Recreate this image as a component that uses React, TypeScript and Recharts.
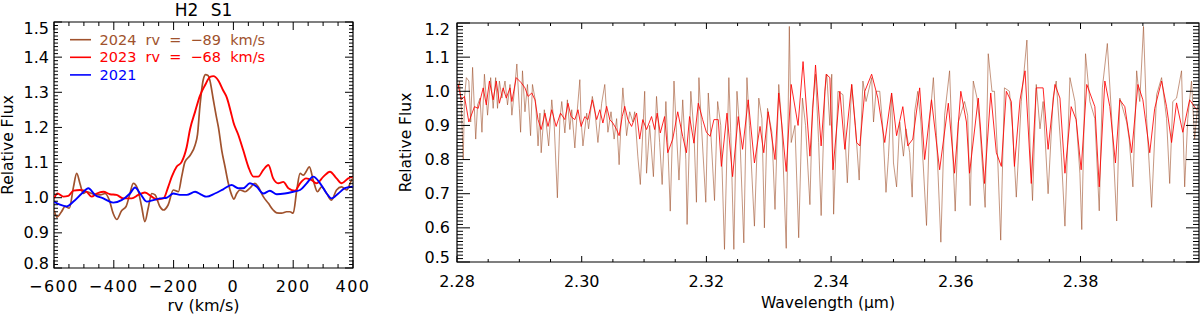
import React from 'react';
import { LineChart, Line, XAxis, YAxis, Legend, ReferenceArea } from 'recharts';

const FONT = "'DejaVu Sans', sans-serif";
const SIENNA = '#a0522d';
const RED = '#ff0000';
const BLUE = '#0000ff';

// ---------------- Left panel: H2 S1 line profiles ----------------
const panelTitle = 'H2 S1';
const seriesNames = ['2024 rv = \u221289 km/s', '2023 rv = \u221268 km/s', '2021'];
const seriesColors = [SIENNA, RED, BLUE];

const rv2024 = [-600, -590, -575, -563, -549, -535, -524, -513, -502, -491, -468, -446, -429, -415, -402, -390, -374, -359, -346, -335, -321, -307, -296, -285, -273, -262, -246, -234, -218, -201, -184, -173, -162, -145, -128, -120, -112, -101, -93, -85, -79, -67, -58, -50, -39, -28, -17, -6, 2, 11, 22, 39, 55, 72, 83, 100, 117, 133, 145, 161, 178, 189, 200, 212, 223, 234, 243, 254, 267, 281, 295, 312, 328, 345, 362, 379, 395, 400];
const flux2024 = [0.965, 0.945, 0.96, 0.975, 0.97, 1.03, 1.069, 1.04, 1.012, 1.017, 1.01, 1.008, 1.012, 0.993, 0.955, 0.938, 0.963, 0.975, 1.012, 1.041, 1.027, 0.975, 0.932, 0.97, 1.012, 1.008, 0.975, 0.965, 0.98, 1.022, 1.017, 1.06, 1.102, 1.12, 1.15, 1.18, 1.26, 1.335, 1.35, 1.348, 1.335, 1.278, 1.235, 1.2, 1.135, 1.088, 1.041, 1.008, 0.996, 1.012, 1.022, 1.017, 1.027, 1.041, 1.031, 1.003, 0.984, 0.965, 0.957, 0.956, 0.96, 0.96, 0.956, 1.022, 1.069, 1.064, 1.074, 1.088, 1.05, 1.017, 1.031, 1.012, 0.993, 1.022, 1.031, 1.022, 1.05, 1.055];

const rv2023 = [-600, -588, -569, -552, -535, -513, -491, -474, -457, -435, -413, -391, -368, -340, -318, -296, -273, -257, -234, -218, -206, -190, -173, -156, -145, -128, -112, -95, -78, -67, -50, -34, -22, -6, 0, 16, 33, 50, 67, 83, 100, 117, 133, 150, 167, 184, 206, 223, 243, 262, 278, 301, 323, 345, 362, 384, 400];
const flux2023 = [0.998, 1.012, 1.003, 1.005, 1.02, 1.022, 1.017, 1.003, 1.012, 1.017, 1.01, 1.008, 0.998, 0.998, 1.008, 1.015, 1.003, 0.995, 0.998, 1.031, 1.06, 1.088, 1.102, 1.145, 1.195, 1.245, 1.29, 1.32, 1.344, 1.346, 1.333, 1.305, 1.285, 1.235, 1.215, 1.18, 1.135, 1.088, 1.06, 1.06, 1.079, 1.093, 1.055, 1.041, 1.045, 1.027, 1.02, 1.041, 1.055, 1.05, 1.041, 1.06, 1.074, 1.055, 1.041, 1.055, 1.06];

const rv2021 = [-600, -580, -558, -535, -507, -485, -463, -435, -402, -374, -346, -329, -312, -290, -268, -246, -223, -201, -179, -156, -128, -106, -90, -62, -34, -6, 16, 33, 55, 78, 100, 122, 145, 172, 200, 223, 245, 267, 290, 312, 328, 351, 373, 400];
const flux2021 = [0.989, 0.98, 0.975, 0.989, 1.012, 1.027, 1.008, 0.998, 0.986, 0.993, 1.012, 1.029, 1.012, 0.989, 0.993, 0.998, 1.0, 1.012, 1.008, 1.008, 1.017, 1.008, 1.003, 1.012, 1.024, 1.036, 1.027, 1.027, 1.041, 1.031, 1.012, 1.02, 1.01, 1.012, 1.017, 1.022, 1.041, 1.06, 1.041, 1.012, 0.998, 1.012, 1.027, 1.031];

const rvMajor = [-600, -400, -200, 0, 200, 400];
const rvLabels = ['\u2212600', '\u2212400', '\u2212200', '0', '200', '400'];
const rvMinor = [-600, -550, -500, -450, -400, -350, -300, -250, -200, -150, -100, -50, 0, 50, 100, 150, 200, 250, 300, 350, 400];
const leftFluxMajor = [0.8, 0.9, 1.0, 1.1, 1.2, 1.3, 1.4, 1.5];
const leftFluxLabels = ['0.8', '0.9', '1.0', '1.1', '1.2', '1.3', '1.4', '1.5'];
const rvTitle = 'rv (km/s)';
const fluxTitle = 'Relative Flux';

// ---------------- Right panel: K-band spectrum ----------------
const wlBrown = [2.2801, 2.2804, 2.2807, 2.2810, 2.2812, 2.2815, 2.2819, 2.2822, 2.2825, 2.2830, 2.2833, 2.2837, 2.2840, 2.2844, 2.2849, 2.2854, 2.2858, 2.2862, 2.2865, 2.2868, 2.2872, 2.2877, 2.2881, 2.2885, 2.2888, 2.2892, 2.2896, 2.2900, 2.2902, 2.2905, 2.2909, 2.2913, 2.2918, 2.2921, 2.2926, 2.2930, 2.2933, 2.2935, 2.2940, 2.2943, 2.2947, 2.2952, 2.2956, 2.2961, 2.2965, 2.2968, 2.2973, 2.2977, 2.2981, 2.2984, 2.2989, 2.2993, 2.2997, 2.2999, 2.3002, 2.3008, 2.3011, 2.3017, 2.3021, 2.3026, 2.3032, 2.3037, 2.3042, 2.3047, 2.3052, 2.3056, 2.3060, 2.3064, 2.3066, 2.3072, 2.3077, 2.3082, 2.3085, 2.3090, 2.3094, 2.3101, 2.3104, 2.3109, 2.3115, 2.3120, 2.3125, 2.3129, 2.3135, 2.3138, 2.3142, 2.3148, 2.3152, 2.3156, 2.3162, 2.3167, 2.3169, 2.3175, 2.3180, 2.3184, 2.3188, 2.3192, 2.3199, 2.3203, 2.3207, 2.3213, 2.3218, 2.3223, 2.3229, 2.3236, 2.3239, 2.3244, 2.3249, 2.3253, 2.3260, 2.3265, 2.3269, 2.3277, 2.3284, 2.3289, 2.3293, 2.3298, 2.3305, 2.3310, 2.3316, 2.3321, 2.3328, 2.3333, 2.3336, 2.3342, 2.3348, 2.3354, 2.3359, 2.3366, 2.3370, 2.3375, 2.3380, 2.3384, 2.3390, 2.3393, 2.3398, 2.3401, 2.3404, 2.3411, 2.3419, 2.3426, 2.3433, 2.3439, 2.3445, 2.3451, 2.3456, 2.3465, 2.3468, 2.3472, 2.3478, 2.3483, 2.3488, 2.3492, 2.3497, 2.3500, 2.3505, 2.3510, 2.3516, 2.3520, 2.3526, 2.3530, 2.3534, 2.3539, 2.3544, 2.3553, 2.3558, 2.3564, 2.3569, 2.3576, 2.3582, 2.3590, 2.3593, 2.3599, 2.3604, 2.3609, 2.3614, 2.3619, 2.3623, 2.3628, 2.3634, 2.3638, 2.3647, 2.3652, 2.3658, 2.3662, 2.3667, 2.3672, 2.3678, 2.3686, 2.3691, 2.3697, 2.3705, 2.3714, 2.3719, 2.3723, 2.3729, 2.3735, 2.3740, 2.3748, 2.3756, 2.3761, 2.3769, 2.3775, 2.3783, 2.3791, 2.3799, 2.3802, 2.3808, 2.3815, 2.3823, 2.3830, 2.3835, 2.3843, 2.3850, 2.3858, 2.3863, 2.3874, 2.3878, 2.3884, 2.3890, 2.3895, 2.3901, 2.3906, 2.3914, 2.3922, 2.3930, 2.3938, 2.3943, 2.3948, 2.3954, 2.3962, 2.3967, 2.3972, 2.3978, 2.3983, 2.3988];
const fluxBrown = [1.00, 1.03, 0.95, 0.80, 0.98, 1.04, 1.03, 0.91, 1.07, 0.86, 0.96, 0.98, 0.88, 1.05, 0.93, 1.04, 0.95, 1.04, 0.95, 1.03, 0.98, 1.03, 0.96, 1.02, 0.93, 1.00, 1.08, 0.95, 0.88, 1.06, 0.94, 1.02, 0.87, 1.02, 0.97, 0.84, 0.936, 0.82, 0.946, 0.907, 0.84, 0.975, 0.897, 0.688, 0.917, 0.97, 0.878, 0.975, 0.888, 0.946, 0.834, 0.946, 1.034, 0.917, 0.84, 0.936, 0.89, 0.985, 0.946, 0.85, 0.965, 1.02, 0.88, 0.94, 0.86, 0.92, 0.785, 0.946, 1.01, 0.87, 0.94, 0.91, 0.94, 0.81, 0.727, 1.0, 0.76, 0.9, 0.75, 0.985, 0.85, 0.727, 0.97, 0.85, 0.649, 1.03, 0.88, 0.74, 0.975, 0.80, 0.61, 1.0, 0.88, 0.675, 1.04, 0.9, 0.675, 0.995, 0.88, 0.68, 0.97, 0.9, 0.537, 1.04, 0.88, 0.537, 1.0, 0.9, 0.556, 1.04, 0.9, 0.605, 0.98, 0.92, 0.60, 0.95, 0.88, 0.654, 1.02, 0.9, 0.54, 1.19, 0.85, 0.9, 0.571, 0.98, 0.9, 0.668, 0.95, 1.05, 0.85, 0.636, 1.0, 1.05, 0.9, 1.05, 0.64, 1.0, 0.99, 0.732, 1.02, 0.9, 0.74, 1.03, 0.97, 1.04, 0.91, 1.0, 1.0, 0.89, 0.704, 0.81, 0.995, 0.79, 0.72, 0.91, 0.81, 0.89, 0.82, 0.69, 0.94, 1.0, 0.91, 0.607, 0.91, 1.04, 0.87, 0.558, 0.93, 1.06, 0.91, 0.649, 0.91, 0.94, 0.97, 0.93, 0.665, 1.03, 0.98, 0.91, 0.66, 1.11, 1.0, 1.0, 0.81, 0.564, 1.01, 1.0, 0.89, 0.69, 0.97, 1.15, 0.84, 0.68, 1.02, 0.89, 0.97, 0.70, 0.98, 1.03, 0.82, 0.605, 1.04, 0.97, 0.76, 0.595, 1.11, 0.97, 0.92, 0.65, 1.01, 1.14, 0.92, 0.62, 0.98, 0.91, 0.86, 0.72, 1.06, 0.97, 1.19, 0.92, 0.66, 0.99, 1.04, 0.92, 0.73, 0.97, 0.98, 1.06, 0.72, 0.92, 1.03, 0.86, 0.96];

const wlRed = [2.2802, 2.2807, 2.2812, 2.2819, 2.2828, 2.2834, 2.2842, 2.2847, 2.2852, 2.2858, 2.2863, 2.2868, 2.2874, 2.2879, 2.2885, 2.2888, 2.2895, 2.2903, 2.2909, 2.2914, 2.2920, 2.2925, 2.2930, 2.2935, 2.2941, 2.2946, 2.2952, 2.2959, 2.2966, 2.2973, 2.2978, 2.2983, 2.2989, 2.2994, 2.2999, 2.3005, 2.3010, 2.3017, 2.3024, 2.3029, 2.3034, 2.3040, 2.3045, 2.3050, 2.3056, 2.3060, 2.3065, 2.3069, 2.3074, 2.3080, 2.3088, 2.3093, 2.3098, 2.3104, 2.3112, 2.3117, 2.3121, 2.3126, 2.3133, 2.3138, 2.3146, 2.3154, 2.3162, 2.3168, 2.3173, 2.3180, 2.3187, 2.3194, 2.3200, 2.3206, 2.3212, 2.3219, 2.3224, 2.3233, 2.3242, 2.3251, 2.3258, 2.3267, 2.3277, 2.3286, 2.3292, 2.3299, 2.3310, 2.3316, 2.3328, 2.3336, 2.3347, 2.3355, 2.3366, 2.3375, 2.3384, 2.3392, 2.3398, 2.3403, 2.3414, 2.3422, 2.3433, 2.3441, 2.3446, 2.3454, 2.3465, 2.3475, 2.3486, 2.3497, 2.3505, 2.3515, 2.3523, 2.3531, 2.3542, 2.3550, 2.3561, 2.3574, 2.3588, 2.3598, 2.3608, 2.3617, 2.3622, 2.3636, 2.3646, 2.3656, 2.3665, 2.3673, 2.3681, 2.3689, 2.3694, 2.3703, 2.3711, 2.3721, 2.3729, 2.3740, 2.3748, 2.3759, 2.3767, 2.3775, 2.3785, 2.3793, 2.3801, 2.3810, 2.3823, 2.3830, 2.3839, 2.3847, 2.3856, 2.3863, 2.3871, 2.3882, 2.3892, 2.3900, 2.3911, 2.3919, 2.3930, 2.3938, 2.3946, 2.3954, 2.3964, 2.3975, 2.3986];
const fluxRed = [1.02, 0.975, 0.985, 0.91, 0.955, 0.95, 1.01, 0.96, 1.03, 0.975, 1.03, 0.965, 1.01, 0.98, 1.01, 0.97, 1.04, 1.025, 1.01, 0.985, 0.995, 0.975, 0.917, 0.888, 0.936, 0.897, 0.946, 0.897, 0.936, 0.917, 0.965, 0.926, 0.917, 0.946, 0.897, 0.926, 0.917, 0.975, 0.917, 0.946, 0.907, 0.956, 0.917, 0.907, 0.888, 0.87, 0.926, 0.956, 0.917, 0.897, 0.936, 0.86, 0.917, 0.888, 0.926, 0.888, 0.936, 0.878, 0.926, 0.82, 0.86, 0.94, 0.868, 0.82, 0.926, 0.848, 0.965, 0.917, 0.88, 0.868, 0.917, 0.917, 0.78, 0.936, 0.75, 0.926, 0.83, 0.975, 0.79, 0.897, 0.82, 0.94, 0.80, 0.995, 0.765, 1.02, 0.90, 1.087, 0.81, 1.077, 0.84, 1.05, 1.04, 0.77, 1.0, 0.83, 1.02, 0.85, 0.84, 1.0, 1.05, 0.98, 0.85, 0.995, 0.87, 0.955, 0.84, 0.86, 1.01, 0.80, 0.975, 0.77, 0.965, 0.76, 1.0, 0.91, 0.76, 0.98, 0.73, 0.995, 0.82, 0.78, 1.0, 0.97, 0.78, 0.975, 1.06, 0.73, 1.01, 1.01, 0.83, 1.02, 0.98, 0.76, 0.955, 0.917, 0.77, 1.02, 0.955, 0.72, 1.03, 0.955, 0.79, 0.975, 0.955, 0.82, 1.02, 0.975, 0.82, 0.95, 1.03, 0.955, 0.85, 0.966, 0.88, 0.975, 0.946];

const wlMajor = [2.28, 2.30, 2.32, 2.34, 2.36, 2.38];
const wlLabels = ['2.28', '2.30', '2.32', '2.34', '2.36', '2.38'];
const rightFluxMajor = [0.5, 0.6, 0.7, 0.8, 0.9, 1.0, 1.1, 1.2];
const rightFluxLabels = ['0.5', '0.6', '0.7', '0.8', '0.9', '1.0', '1.1', '1.2'];
const wlTitle = 'Wavelength (\u03bcm)';

// minor tick positions (axis decoration only)
const minorSteps = (lo: number, hi: number, step: number) => {
  const n = Math.round((hi - lo) / step);
  const out: number[] = [];
  for (let i = 0; i <= n; i++) out.push(Number((lo + i * step).toFixed(5)));
  return out;
};
const leftFluxMinor = minorSteps(0.8, 1.5, 0.01);
const rightFluxMinor = minorSteps(0.5, 1.2, 0.01);
const wlMinor = minorSteps(2.28, 2.395, 0.005);

const toXY = (xs: number[], ys: number[]) => xs.map((x, i) => ({ x, y: ys[i] }));
const data2024 = toXY(rv2024, flux2024);
const data2023 = toXY(rv2023, flux2023);
const data2021 = toXY(rv2021, flux2021);
const dataBrown = toXY(wlBrown, fluxBrown);
const dataRed = toXY(wlRed, fluxRed);

type Side = 'left' | 'right' | 'top' | 'bottom';
const TICK_FS = 16;

function makeTick(side: Side, majors: number[], labels: string[] | null, majorLen: number, minorLen: number, labelGap: number, spacing = 0) {
  return (props: any) => {
    const x = Number(props.x);
    const y = Number(props.y);
    const v = Number(props.payload.value);
    const mi = majors.findIndex((m) => Math.abs(m - v) < 1e-7);
    const len = mi >= 0 ? majorLen : minorLen;
    let d = '';
    if (side === 'left') d = `M${x},${y}H${x + len}`;
    if (side === 'right') d = `M${x},${y}H${x - len}`;
    if (side === 'bottom') d = `M${x},${y}V${y - len}`;
    if (side === 'top') d = `M${x},${y}V${y + len}`;
    let label: any = null;
    if (mi >= 0 && labels) {
      if (side === 'left') {
        let dy = 0;
        if (mi === majors.length - 1) dy = 6.5;
        if (mi === 0) dy = -5;
        label = (
          <text x={x - labelGap} y={y + dy} textAnchor="end" dominantBaseline="central" fontFamily={FONT} fontSize={TICK_FS} fill="#000">
            {labels[mi]}
          </text>
        );
      } else if (side === 'bottom') {
        label = (
          <text x={x} y={y + labelGap} textAnchor="middle" dominantBaseline="central" fontFamily={FONT} fontSize={TICK_FS} fill="#000" style={{ letterSpacing: `${spacing}px` }}>
            {labels[mi]}
          </text>
        );
      }
    }
    return (
      <g>
        <path d={d} stroke="#000" strokeWidth={1} fill="none" />
        {label}
      </g>
    );
  };
}

const yTitle = (xPos: number) => (props: any) => {
  const vb = props.viewBox;
  const cy = vb.y + vb.height / 2;
  return (
    <text x={xPos} y={cy} transform={`rotate(-90, ${xPos}, ${cy})`} textAnchor="middle" dominantBaseline="central" fontFamily={FONT} fontSize={15.5} fill="#000">
      {fluxTitle}
    </text>
  );
};

const xTitle = (text: string, dy: number, fs: number, ws = 0) => (props: any) => {
  const vb = props.viewBox;
  return (
    <text x={vb.x + vb.width / 2} y={vb.y + dy} textAnchor="middle" dominantBaseline="central" fontFamily={FONT} fontSize={fs} fill="#000" style={{ wordSpacing: `${ws}px` }}>
      {text}
    </text>
  );
};

const renderLegend = () => (
  <svg width={240} height={60} style={{ display: 'block', overflow: 'visible' }}>
    {seriesNames.map((name, i) => (
      <g key={name}>
        <path d={`M4,${9.7 + i * 17.6}H25`} stroke={seriesColors[i]} strokeWidth={1.6} fill="none" />
        <text x={33.5} y={9.7 + i * 17.6} dominantBaseline="central" fill={seriesColors[i]} fontFamily={FONT} fontSize={14.5} style={{ wordSpacing: '4.5px' }}>
          {name}
        </text>
      </g>
    ))}
  </svg>
);

export default function App() {
  return (
    <div style={{ position: 'absolute', left: 0, top: 0, width: 1200, height: 314, background: '#ffffff', overflow: 'hidden' }}>
      <div style={{ position: 'absolute', left: 0, top: 0 }}>
        <LineChart width={370} height={314} margin={{ top: 21, right: 16, bottom: 0, left: 0 }}>
          <XAxis xAxisId="b" dataKey="x" type="number" domain={[-600, 400]} allowDataOverflow ticks={rvMinor} interval={0}
            tickSize={0} tickMargin={0} tickLine={false} axisLine={false} height={46}
            tick={makeTick('bottom', rvMajor, rvLabels, 8, 4, 18, 1.5)} label={xTitle(rvTitle, 37, 16)} />
          <XAxis xAxisId="t" dataKey="x" orientation="top" type="number" domain={[-600, 400]} allowDataOverflow ticks={rvMinor} interval={0}
            tickSize={0} tickMargin={0} tickLine={false} axisLine={false} height={1}
            tick={makeTick('top', rvMajor, null, 8, 4, 0)} label={xTitle(panelTitle, -11, 17, 7)} />
          <YAxis yAxisId="l" type="number" domain={[0.8, 1.5]} allowDataOverflow ticks={leftFluxMinor} interval={0}
            tickSize={0} tickMargin={0} tickLine={false} axisLine={false} width={54}
            tick={makeTick('left', leftFluxMajor, leftFluxLabels, 8, 4, 5)} label={yTitle(8)} />
          <YAxis yAxisId="r" orientation="right" type="number" domain={[0.8, 1.5]} allowDataOverflow ticks={leftFluxMinor} interval={0}
            tickSize={0} tickMargin={0} tickLine={false} axisLine={false} width={1}
            tick={makeTick('right', leftFluxMajor, null, 8, 4, 0)} />
          <ReferenceArea xAxisId="b" yAxisId="l" x1={-600} x2={400} y1={0.8} y2={1.5} fill="none" fillOpacity={0} stroke="#000" strokeWidth={1.2} ifOverflow="visible" />
          <Line xAxisId="b" yAxisId="l" data={data2024} dataKey="y" name={seriesNames[0]} type="monotone" stroke={SIENNA} strokeWidth={1.7} dot={false} isAnimationActive={false} />
          <Line xAxisId="b" yAxisId="l" data={data2023} dataKey="y" name={seriesNames[1]} type="monotone" stroke={RED} strokeWidth={1.9} dot={false} isAnimationActive={false} />
          <Line xAxisId="b" yAxisId="l" data={data2021} dataKey="y" name={seriesNames[2]} type="monotone" stroke={BLUE} strokeWidth={1.9} dot={false} isAnimationActive={false} />
          <Legend layout="vertical" align="center" verticalAlign="middle" content={renderLegend}
            wrapperStyle={{ left: 66, top: 30, width: 240, height: 60 }} />
        </LineChart>
      </div>
      <div style={{ position: 'absolute', left: 380, top: 0 }}>
        <LineChart width={820} height={314} margin={{ top: 22, right: 0, bottom: 0, left: 0 }}>
          <XAxis xAxisId="b" dataKey="x" type="number" domain={[2.28, 2.399]} allowDataOverflow ticks={wlMinor} interval={0}
            tickSize={0} tickMargin={0} tickLine={false} axisLine={false} height={52}
            tick={makeTick('bottom', wlMajor, wlLabels, 6, 3, 19)} label={xTitle(wlTitle, 41, 15.5)} />
          <XAxis xAxisId="t" dataKey="x" orientation="top" type="number" domain={[2.28, 2.399]} allowDataOverflow ticks={wlMinor} interval={0}
            tickSize={0} tickMargin={0} tickLine={false} axisLine={false} height={1}
            tick={makeTick('top', wlMajor, null, 6, 3, 0)} />
          <YAxis yAxisId="l" type="number" domain={[0.5, 1.2]} allowDataOverflow ticks={rightFluxMinor} interval={0}
            tickSize={0} tickMargin={0} tickLine={false} axisLine={false} width={77}
            tick={makeTick('left', rightFluxMajor, rightFluxLabels, 13, 6, 7)} label={yTitle(26)} />
          <YAxis yAxisId="r" orientation="right" type="number" domain={[0.5, 1.2]} allowDataOverflow ticks={rightFluxMinor} interval={0}
            tickSize={0} tickMargin={0} tickLine={false} axisLine={false} width={1}
            tick={makeTick('right', rightFluxMajor, null, 13, 6, 0)} />
          <ReferenceArea xAxisId="b" yAxisId="l" x1={2.28} x2={2.399} y1={0.5} y2={1.2} fill="none" fillOpacity={0} stroke="#000" strokeWidth={1.2} ifOverflow="visible" />
          <Line xAxisId="b" yAxisId="l" data={dataBrown} dataKey="y" type="linear" stroke={SIENNA} strokeOpacity={0.6} strokeWidth={1} dot={false} isAnimationActive={false} />
          <Line xAxisId="b" yAxisId="l" data={dataRed} dataKey="y" type="linear" stroke={RED} strokeOpacity={0.85} strokeWidth={1} dot={false} isAnimationActive={false} />
        </LineChart>
      </div>
    </div>
  );
}
